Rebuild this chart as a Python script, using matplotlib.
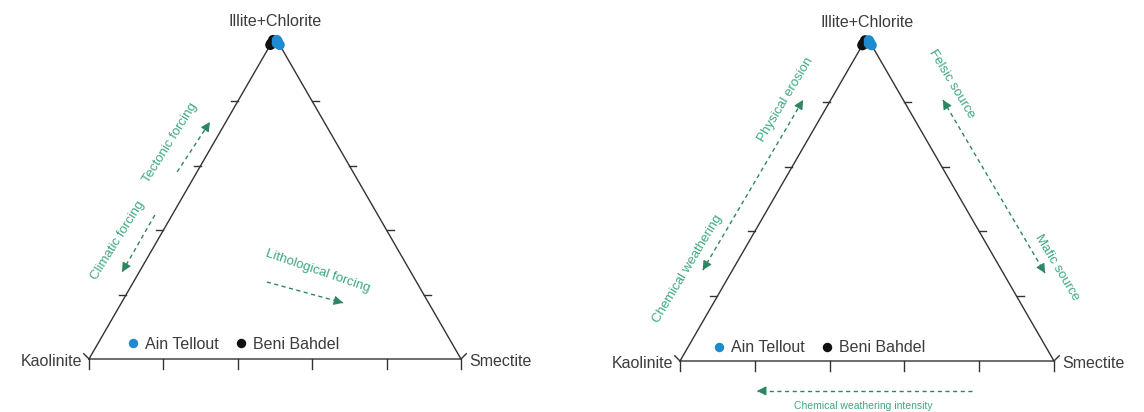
import numpy as np
import matplotlib
matplotlib.use("Agg")
import matplotlib.pyplot as plt
from matplotlib.lines import Line2D

# Clay mineral assemblages (fractions): kaolinite, illite+chlorite, smectite
ain_kaolinite = [0.000, 0.000, 0.005, 0.000]
ain_illite = [0.985, 0.975, 0.980, 0.990]
ain_smectite = [0.015, 0.025, 0.015, 0.010]

beni_kaolinite = [0.020, 0.010, 0.025, 0.015]
beni_illite = [0.980, 0.990, 0.975, 0.980]
beni_smectite = [0.000, 0.000, 0.000, 0.005]

series_names = ["Ain Tellout", "Beni Bahdel"]
series_colors = ["#1e8bd0", "#111111"]
vertex_labels = ["Kaolinite", "Illite+Chlorite", "Smectite"]
n_divisions = 5

plt.rcParams["font.family"] = ["Liberation Sans", "DejaVu Sans"]

FIG_W, FIG_H = 1144, 412
H = np.sqrt(3) / 2
EDGE = "#333333"
LABEL = "#3c3c3c"
GREEN_TXT = "#3ea87f"
GREEN_ARR = "#2c8760"


def to_cart(k, i, s):
    k, i, s = (np.asarray(v, float) for v in (k, i, s))
    tot = k + i + s
    return (s + i / 2) / tot, i * H / tot


fig = plt.figure(figsize=(FIG_W / 100, FIG_H / 100), dpi=100)


def ternary_axes(x0_px, ybot_px, width_px):
    ax = fig.add_axes([0, 0, 1, 1])
    ax.set_xlim(-x0_px / width_px, (FIG_W - x0_px) / width_px)
    ax.set_ylim(-(FIG_H - ybot_px) / width_px, ybot_px / width_px)
    ax.axis("off")
    ax.patch.set_alpha(0)
    return ax


def draw_frame(ax, width_px):
    ax.plot([0, 1, 0.5, 0], [0, 0, H, 0], color=EDGE, lw=1.0,
            solid_joinstyle="miter", zorder=2)
    tb = 10 / width_px
    ts = 7 / width_px
    for j in range(n_divisions + 1):
        f = j / n_divisions
        ax.plot([f, f], [0, -tb], color=EDGE, lw=1.0, zorder=2)
    for j in range(1, n_divisions):
        f = j / n_divisions
        ax.plot([f / 2, f / 2 - ts], [f * H, f * H], color=EDGE, lw=1.0)
        ax.plot([1 - f / 2, 1 - f / 2 + ts], [f * H, f * H], color=EDGE, lw=1.0)
    a = ts * 0.75
    ax.plot([0, -a], [0, a], color=EDGE, lw=1.0)
    ax.plot([1, 1 + a], [0, a], color=EDGE, lw=1.0)

    ax.text(0.5, H + 15 / width_px, vertex_labels[1], ha="center", va="center",
            fontsize=11.5, color=LABEL)
    ax.text(-7 / width_px, -2 / width_px, vertex_labels[0], ha="right",
            va="center", fontsize=11.5, color=LABEL)
    ax.text(1 + 8 / width_px, -2 / width_px, vertex_labels[2], ha="left",
            va="center", fontsize=11.5, color=LABEL)


def draw_points(ax, legend_xy):
    bx, by = to_cart(beni_kaolinite, beni_illite, beni_smectite)
    axx, axy = to_cart(ain_kaolinite, ain_illite, ain_smectite)
    ax.scatter(bx, by, s=55, color=series_colors[1], edgecolors="none",
               zorder=4, clip_on=False)
    ax.scatter(axx, axy, s=55, color=series_colors[0], edgecolors="none",
               zorder=5, clip_on=False)
    handles = [Line2D([], [], ls="", marker="o", ms=6.8, color=c,
                      markeredgewidth=0, label=n)
               for n, c in zip(series_names, series_colors)]
    ax.legend(handles=handles, ncol=2, frameon=False, fontsize=11.5,
              loc="center left", bbox_to_anchor=legend_xy,
              bbox_transform=ax.transData, borderpad=0, borderaxespad=0,
              handlelength=0.6, handletextpad=0.45, columnspacing=1.1,
              labelcolor=LABEL)


def dashed_arrow(ax, start, end, both=False):
    start = np.asarray(start, float)
    end = np.asarray(end, float)
    ax.plot([start[0], end[0]], [start[1], end[1]], color=GREEN_ARR, lw=1.0,
            dashes=(3, 2.5), zorder=3)
    d = (end - start) / np.hypot(*(end - start)) * 0.01
    tips = [(end, end - d)]
    if both:
        tips.append((start, start + d))
    for tip, tail in tips:
        ax.annotate("", xy=tip, xytext=tail,
                    arrowprops=dict(arrowstyle="-|>,head_length=0.55,head_width=0.28",
                                    color=GREEN_ARR, lw=0.8, shrinkA=0, shrinkB=0),
                    zorder=3)


def green_text(ax, xy, s, rot, size=9.5):
    ax.text(xy[0], xy[1], s, rotation=rot, rotation_mode="anchor",
            ha="center", va="center", fontsize=size, color=GREEN_TXT)


# Left diagram: forcing factors
axL = ternary_axes(89, 359, 372)
draw_frame(axL, 372)
draw_points(axL, (0.105, 0.040))
green_text(axL, (0.218, 0.582), "Tectonic forcing", 58)
dashed_arrow(axL, (0.237, 0.503), (0.325, 0.637))
green_text(axL, (0.078, 0.320), "Climatic forcing", 58)
dashed_arrow(axL, (0.177, 0.387), (0.089, 0.234))
green_text(axL, (0.616, 0.235), "Lithological forcing", -19)
dashed_arrow(axL, (0.478, 0.207), (0.683, 0.151))

# Right diagram: weathering and source interpretation
axR = ternary_axes(680, 361, 374)
draw_frame(axR, 374)
draw_points(axR, (0.091, 0.035))
green_text(axR, (0.283, 0.698), "Physical erosion", 59)
green_text(axR, (0.021, 0.246), "Chemical weathering", 59)
dashed_arrow(axR, (0.061, 0.243), (0.329, 0.698), both=True)
green_text(axR, (0.727, 0.741), "Felsic source", -59)
green_text(axR, (1.008, 0.251), "Mafic source", -59)
dashed_arrow(axR, (0.703, 0.698), (0.976, 0.235), both=True)
dashed_arrow(axR, (0.781, -0.080), (0.206, -0.080))
green_text(axR, (0.489, -0.120), "Chemical weathering intensity", 0, size=7.5)

fig.savefig("out.png", dpi=100, facecolor="white")
